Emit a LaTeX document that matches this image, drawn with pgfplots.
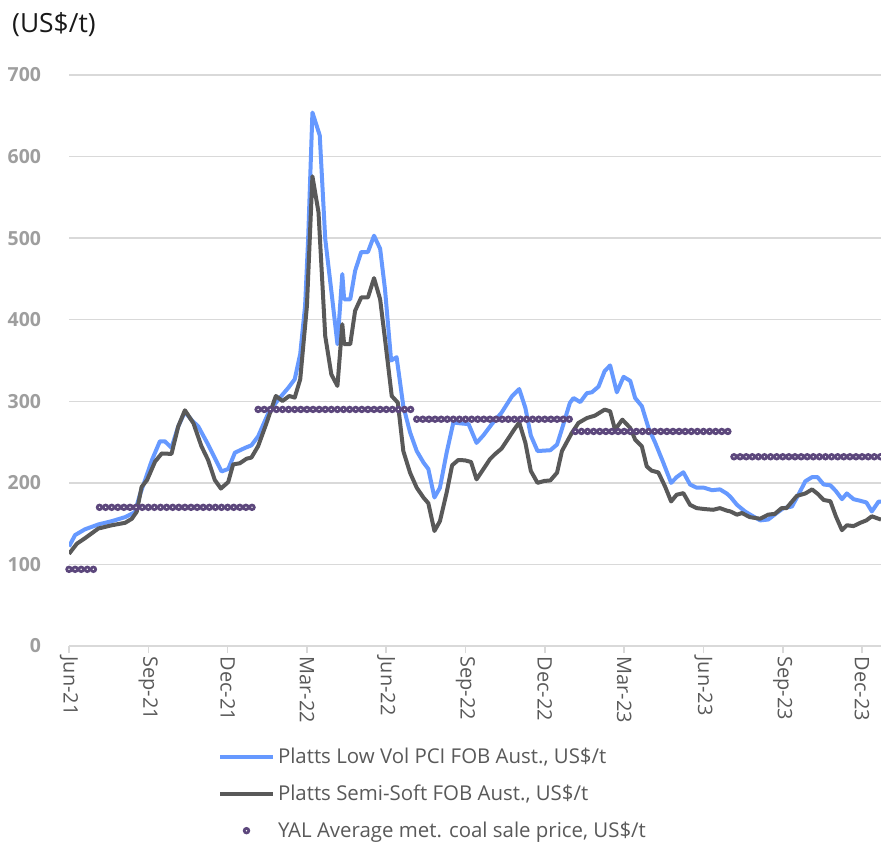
\documentclass[border=0pt]{standalone}
\usepackage{fontspec}
\setmainfont{Open Sans}
\usepackage{pgfplots}
\pgfplotsset{compat=1.18}
\definecolor{pblue}{HTML}{6699FF}
\definecolor{pgray}{HTML}{595959}
\definecolor{ppurple}{HTML}{5C477C}
\definecolor{gridc}{HTML}{D9D9D9}
\definecolor{ytickc}{HTML}{9E9E9E}
\pgfplotsset{
  lineleg/.style={legend image code/.code={\draw[##1] (0bp,0bp) -- (53bp,0bp);}},
  markleg/.style={legend image code/.code={\draw[##1] plot coordinates {(26.5bp,0bp)};}},
}
\begin{document}
\begin{tikzpicture}
\useasboundingbox (0bp,0bp) rectangle (881bp,844bp);
\node[anchor=west, font=\fontsize{26.5}{31}\selectfont, text=black!90, inner sep=0pt] at (12bp,819bp) {(US\$/t)};
\begin{axis}[
  at={(69bp,198bp)}, anchor=south west,
  scale only axis, width=812bp, height=571bp,
  xmin=0, xmax=133.1, ymin=0, ymax=700,
  axis lines*=left,
  y axis line style={draw=none},
  x axis line style={gridc, line width=1.5bp},
  xtick={0,13,...,130},
  xticklabels={Jun-21,Sep-21,Dec-21,Mar-22,Jun-22,Sep-22,Dec-22,Mar-23,Jun-23,Sep-23,Dec-23},
  x tick style={gridc, line width=1.5bp},
  major tick length=7bp, tick align=outside,
  ytick={0,100,...,700},
  y tick style={draw=none},
  ymajorgrids, grid style={gridc, line width=1.5bp},
  xticklabel style={rotate=-90, anchor=west, font=\fontsize{20}{24}\selectfont, text=pgray},
  yticklabel style={font=\fontsize{19.5}{22}\selectfont\bfseries, text=ytickc, xshift=-17.5bp},
  /pgf/number format/assume math mode=true,
  legend style={at={(axis description cs:0.1835,-0.1787)}, anchor=north west, draw=none, fill=none,
    inner sep=0pt, outer sep=0pt, font=\fontsize{20.5}{24}\selectfont, text=pgray,
    row sep=20bp, nodes={inner sep=0pt},
    /tikz/every odd column/.append style={column sep=3bp}},
  legend cell align=left,
]
\addplot[pblue, line width=4bp, line join=round, mark=none, lineleg] coordinates {
(0,122) (1,136) (2.6,143) (4.8,149) (7,153) (9.2,158) (10.8,164) (11.6,185) (12.5,204) (13.6,228)
(14.9,251) (15.7,251) (16.8,243) (17.9,269) (19,287) (20.1,277) (21.2,269) (22.8,247) (25,214) (26.1,217)
(27.2,237) (28.9,243) (29.9,246) (31,257) (32.7,286) (34.3,302) (36,317) (37,327) (37.9,358) (38.7,417)
(39.2,499) (39.9,654) (41.1,626) (42,499) (43.1,429) (44,370) (44.8,456) (45.1,425) (46.1,425) (46.9,460)
(47.9,483) (49,483) (50,503) (51,487) (51.8,437) (52.8,350) (53.7,354) (54.8,294) (55.9,262) (57,239)
(58.1,225) (58.9,217) (59.9,182) (60.8,194) (61.9,237) (63,274) (64.1,273) (65.5,272) (66.8,249) (67.9,258)
(69.3,272) (70.9,286) (72.6,306) (73.8,315) (74.8,292) (75.7,258) (76.8,239) (78.9,240) (80,247) (80.8,266)
(82.1,298) (82.7,304) (83.8,299) (84.9,310) (85.7,311) (86.8,318) (87.8,337) (88.7,344) (89.8,311) (90.9,330)
(92,325) (92.8,304) (93.9,294) (95,267) (96.1,249) (97.4,225) (98.7,200) (99.6,207) (100.7,213) (101.8,198)
(102.9,194) (104.1,194) (105.4,191) (106.7,192) (107.8,187) (108.4,183) (109.5,173) (110.8,165) (111.9,160) (113.3,154)
(114.6,155) (116,163) (117.1,169) (118.5,171) (119.6,186) (120.7,202) (121.8,207) (122.7,207) (123.7,198) (124.8,197)
(125.7,190) (126.7,180) (127.5,187) (128.6,180) (129.7,178) (130.7,176) (131.6,165) (132.7,177) (133.1,177)
};
\addlegendentry{Platts Low Vol PCI FOB Aust., US\$/t}
\addplot[pgray, line width=4bp, line join=round, mark=none, lineleg] coordinates {
(0,113) (1.3,125.5) (2.6,132) (4.8,144) (7,148) (9.2,151) (10.3,156) (11.1,164.5) (11.9,195) (12.8,203.5)
(14.1,226) (15.2,236) (16.8,235.5) (17.9,269) (19,289) (20.4,273) (21.7,245) (22.8,228) (23.9,203.5) (24.9,193)
(26.1,201) (26.9,222.6) (28,224) (29.1,229.6) (29.9,231) (31,245) (32.4,273.8) (33.9,306.5) (35,300.4) (36.1,306.5)
(37,304.5) (37.9,327) (39,417) (39.9,575.8) (40.9,531.6) (42,380) (43,333) (44,318.8) (44.8,394.5) (45.1,370)
(46.1,370) (46.9,411) (47.9,427.3) (49,427.3) (50,451) (51,425) (51.8,376) (52.9,306.5) (53.9,298.3) (54.8,239)
(55.9,212.5) (57,194) (58.1,182) (58.9,175) (59.9,141) (60.8,153) (61.9,188) (62.8,221.5) (63.8,228) (64.9,227.6)
(65.9,225.6) (66.8,204.3) (67.9,216.6) (69,229) (69.8,235) (70.9,242) (72,254.3) (73,265.7) (73.8,274) (74.8,249.4)
(75.7,214.6) (76.8,200) (77.9,202.3) (78.9,203) (80,212.5) (80.8,239) (82.4,261) (83.5,273.4) (84.9,279.5) (86.2,282.4)
(87.8,289.8) (88.7,287.7) (89.5,265.2) (90.7,277.5) (92,267.3) (92.8,253) (93.9,244.7) (94.7,220.2) (95.5,214.9) (96.6,212.8)
(97.7,195.6) (98.7,177.2) (99.6,185.4) (100.7,187.4) (101.8,173) (102.9,169) (104.3,167.8) (105.6,167) (106.7,169) (107.8,166)
(108.4,165) (109.5,161) (110.3,163) (111.6,158) (113.3,156) (114.6,161) (115.7,162) (116.8,169) (117.6,169) (119.3,184)
(120.7,187) (121.8,192) (122.8,186) (123.7,179) (124.8,177.5) (125.7,159) (126.7,142) (127.5,148) (128.6,147) (129.7,151)
(130.7,154) (131.6,159) (132.7,156) (133.1,155)
};
\addlegendentry{Platts Semi-Soft FOB Aust., US\$/t}
\addplot[only marks, mark=*, mark size=2.3bp, mark options={draw=ppurple, fill=white, line width=2.7bp}, markleg] coordinates {
(0,94) (1,94) (2,94) (3,94) (4,94)
(5,170) (6,170) (7,170) (8,170) (9,170) (10,170) (11,170) (12,170) (13,170) (14,170) (15,170) (16,170) (17,170)
(18,170) (19,170) (20,170) (21,170) (22,170) (23,170) (24,170) (25,170) (26,170) (27,170) (28,170) (29,170) (30,170)
(31,290) (32,290) (33,290) (34,290) (35,290) (36,290) (37,290) (38,290) (39,290) (40,290) (41,290) (42,290) (43,290)
(44,290) (45,290) (46,290) (47,290) (48,290) (49,290) (50,290) (51,290) (52,290) (53,290) (54,290) (55,290) (56,290)
(57,278) (58,278) (59,278) (60,278) (61,278) (62,278) (63,278) (64,278) (65,278) (66,278) (67,278) (68,278) (69,278)
(70,278) (71,278) (72,278) (73,278) (74,278) (75,278) (76,278) (77,278) (78,278) (79,278) (80,278) (81,278) (82,278)
(83,263) (84,263) (85,263) (86,263) (87,263) (88,263) (89,263) (90,263) (91,263) (92,263) (93,263) (94,263) (95,263)
(96,263) (97,263) (98,263) (99,263) (100,263) (101,263) (102,263) (103,263) (104,263) (105,263) (106,263) (107,263) (108,263)
(109,232) (110,232) (111,232) (112,232) (113,232) (114,232) (115,232) (116,232) (117,232) (118,232) (119,232) (120,232) (121,232)
(122,232) (123,232) (124,232) (125,232) (126,232) (127,232) (128,232) (129,232) (130,232) (131,232) (132,232) (133,232)
};
\addlegendentry{YAL Average met. coal sale price, US\$/t}
\end{axis}
\end{tikzpicture}
\end{document}
